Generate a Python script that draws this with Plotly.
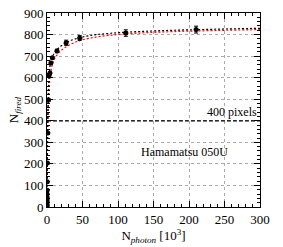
import plotly.graph_objects as go

# measured points (N_photon in 10^3, N_fired)
x_pts = [0.005, 0.01, 0.02, 0.04, 0.06, 0.08, 0.12, 0.2, 0.35, 0.6, 1.2, 2.2, 3.0, 4.2, 5.5, 7.5, 14, 27, 46, 111, 210]
y_pts = [3, 8, 15, 25, 35, 45, 60, 78, 117, 204, 343, 496, 612, 622, 668, 692, 724, 762, 784, 807, 823]
y_err = [0, 0, 0, 0, 0, 0, 0, 0, 0, 0, 0, 0, 0, 0, 0, 0, 8, 12, 12, 15, 16]

# fit curves
x_fit = [0, 0.25, 0.5, 1, 2, 3, 5, 8, 12, 18, 27, 40, 60, 90, 130, 180, 240, 300]
y_fit_black = [0, 140, 250, 400, 540, 610, 670, 700, 722, 742, 762, 780, 795, 806, 814, 820, 825, 829]
y_fit_red = [0, 100, 180, 320, 470, 550, 620, 665, 695, 720, 743, 765, 783, 797, 807, 814, 819, 823]

x_ticks = [0, 50, 100, 150, 200, 250, 300]
y_ticks = [0, 100, 200, 300, 400, 500, 600, 700, 800, 900]

FONT = "Liberation Serif, Times New Roman, serif"

fig = go.Figure()
fig.add_trace(go.Scatter(x=x_fit, y=y_fit_red, mode="lines", line=dict(color="red", dash="2px,2px", width=1.2, shape="spline"), hoverinfo="skip"))
fig.add_trace(go.Scatter(x=x_fit, y=y_fit_black, mode="lines", line=dict(color="black", dash="2px,2px", width=1.2, shape="spline"), hoverinfo="skip"))
fig.add_trace(go.Scatter(x=x_pts, y=y_pts, mode="markers",
                         marker=dict(color="black", size=5),
                         error_y=dict(type="data", array=y_err, color="black", thickness=1, width=2)))
fig.add_shape(type="line", xref="x", yref="y", x0=0, x1=300, y0=400, y1=400,
              line=dict(color="black", dash="4px,2px", width=1.2))
fig.add_annotation(x=298, y=400, text="400 pixels", showarrow=False, xanchor="right", yanchor="bottom",
                   font=dict(family=FONT, size=12, color="black"))
fig.add_annotation(x=193, y=255, text="Hamamatsu 050U", showarrow=False, xanchor="center", yanchor="middle",
                   font=dict(family=FONT, size=12, color="black"))

axis_common = dict(showline=True, linecolor="black", linewidth=1, mirror="ticks", ticks="inside",
                   ticklen=6, tickcolor="black", showgrid=True, gridcolor="#aaaaaa", griddash="dot",
                   gridwidth=1, zeroline=False, automargin=False,
                   tickfont=dict(family=FONT, size=13, color="black"))

fig.update_layout(
    width=283, height=247, margin=dict(l=47, r=23, t=13, b=40),
    paper_bgcolor="white", plot_bgcolor="white", showlegend=False,
    font=dict(family=FONT, size=13, color="black"),
    xaxis=dict(range=[0, 300], tickvals=x_ticks,
               minor=dict(dtick=10, ticks="inside", ticklen=3, tickcolor="black", showgrid=False),
               title=dict(text="N<sub><i>photon</i></sub> [10<sup>3</sup>]", font=dict(family=FONT, size=13), standoff=4),
               **axis_common),
    yaxis=dict(range=[0, 900], tickvals=y_ticks,
               minor=dict(dtick=20, ticks="inside", ticklen=3, tickcolor="black", showgrid=False),
               title=dict(text="N<sub><i>fired</i></sub>", font=dict(family=FONT, size=13), standoff=2),
               **axis_common),
)
fig.write_html("out.html", config={"displayModeBar": False},
               post_script="document.body.style.margin='0';document.body.style.overflow='hidden';")
